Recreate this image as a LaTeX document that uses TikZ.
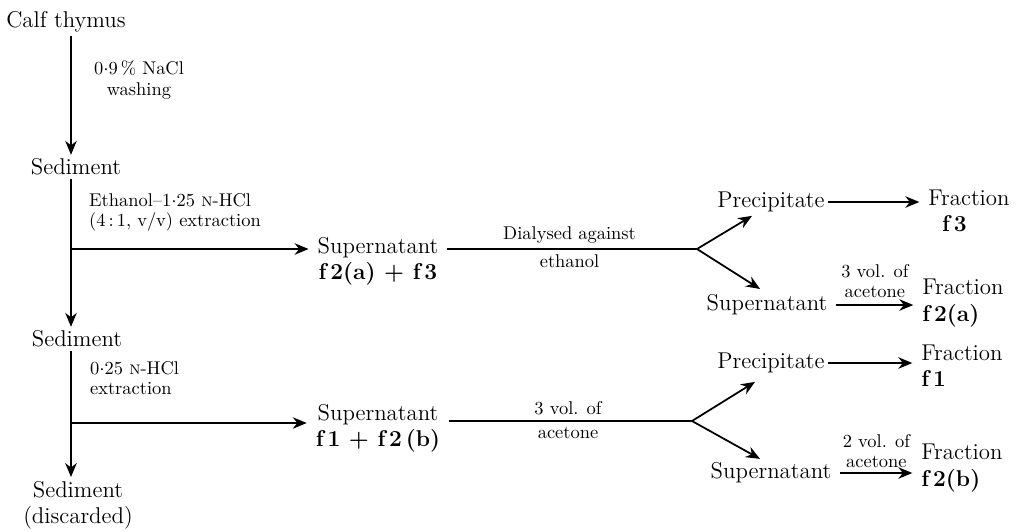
\documentclass[tikz,border=0pt]{standalone}
\usepackage{tikz}
\usetikzlibrary{arrows.meta,positioning}

\begin{document}
\begin{tikzpicture}[
            x=0.02cm, y=-0.02cm,
            stage/.style={font=\fontsize{13}{15}\selectfont, inner sep=2pt, align=center},
            frac/.style={stage, align=left},
            note/.style={font=\fontsize{10.5}{11.5}\selectfont, inner sep=1pt},
            arrow/.style={-{Stealth[length=2.8mm,width=2.3mm]}, line width=1pt},
            line/.style={line width=1pt}
        ]
        \useasboundingbox (0,0) rectangle (1017,531);
        % left column
        \node[stage] (calf) at (66,22) {Calf thymus};
        \node[stage] (sed1) at (76,167) {Sediment};
        \node[stage] (sed2) at (77,339) {Sediment};
        \node[stage] (sed3) at (78,505) {Sediment\\(discarded)};
        \node[note, align=center] (wash) at (139,80) {0${\cdot}$9\,\% NaCl\\washing};
        \node[note, align=left, anchor=west] (ext1) at (87,212) {Ethanol--1${\cdot}$25 \textsc{n}-HCl\\(4\,:\,1, v/v) extraction};
        \node[note, align=left, anchor=west] (ext2) at (88,378) {0${\cdot}$25 \textsc{n}-HCl\\extraction};
        % supernatants
        \node[stage] (sup1) at (378,261) {Supernatant\\\textbf{f\,2(a) + f\,3}};
        \node[stage] (sup2) at (378,428) {Supernatant\\\textbf{f\,1 + f\,2\,(b)}};
        % right part
        \node[stage] (pre1) at (771,202) {Precipitate};
        \node[stage] (sup3) at (767,305) {Supernatant};
        \node[stage] (pre2) at (771,363) {Precipitate};
        \node[stage] (sup4) at (771,473) {Supernatant};
        \node[frac] (fr3) at (969,211) {Fraction\\\hspace{0.6em}\textbf{f\,3}};
        \node[frac] (fr2a) at (963,303) {Fraction\\\textbf{f\,2(a)}};
        \node[frac] (fr1) at (962,366) {Fraction\\\textbf{f\,1}};
        \node[frac] (fr2b) at (962,468) {Fraction\\\textbf{f\,2(b)}};
        \coordinate (t) at (71,0);
        \coordinate (j1) at (71,249);
        \coordinate (j2) at (71,423);
        \coordinate (fk1) at (697,249);
        \coordinate (fk2) at (692,421);
        % trunk
        \draw[arrow] (calf.south -| t) -- (sed1.north -| t);
        \draw[arrow] (sed1.south -| t) -- (sed2.north -| t);
        \draw[arrow] (sed2.south -| t) -- (sed3.north -| t);
        \draw[arrow, shorten >=3pt] (j1) -- (j1 -| sup1.west);
        \draw[arrow, shorten >=3pt] (j2) -- (j2 -| sup2.west);
        % forks
        \draw[line, shorten <=3pt] (sup1.east |- fk1) -- node[midway, note, above=2pt] {Dialysed against} node[midway, note, below=2pt] {ethanol} (fk1);
        \draw[line, shorten <=3pt] (sup2.east |- fk2) -- node[midway, note, above=2pt] {3 vol. of} node[midway, note, below=2pt] {acetone} (fk2);
        \draw[arrow] (fk1) -- ([xshift=-0.38cm]pre1.south);
        \draw[arrow, shorten >=2pt] (fk1) -- ([xshift=-0.08cm]sup3.north);
        \draw[arrow] (fk2) -- ([xshift=-0.32cm,yshift=-0.1cm]pre2.south);
        \draw[arrow] (fk2) -- ([xshift=-0.22cm]sup4.north);
        % to fractions
        \draw[arrow, shorten >=3pt] (pre1.east) -- (pre1.east -| fr3.west);
        \draw[arrow, shorten <=3pt, shorten >=3pt] (sup3.east) -- node[midway, note, above=2.5pt, align=center] {3 vol. of\\acetone} (sup3.east -| fr2a.west);
        \draw[arrow, shorten >=3pt] (pre2.east) -- (pre2.east -| fr1.west);
        \draw[arrow, shorten <=3pt, shorten >=3pt] (sup4.east) -- node[midway, note, above=1.5pt, align=center] {2 vol. of\\acetone} (sup4.east -| fr2b.west);
        \end{tikzpicture}
\end{document}
